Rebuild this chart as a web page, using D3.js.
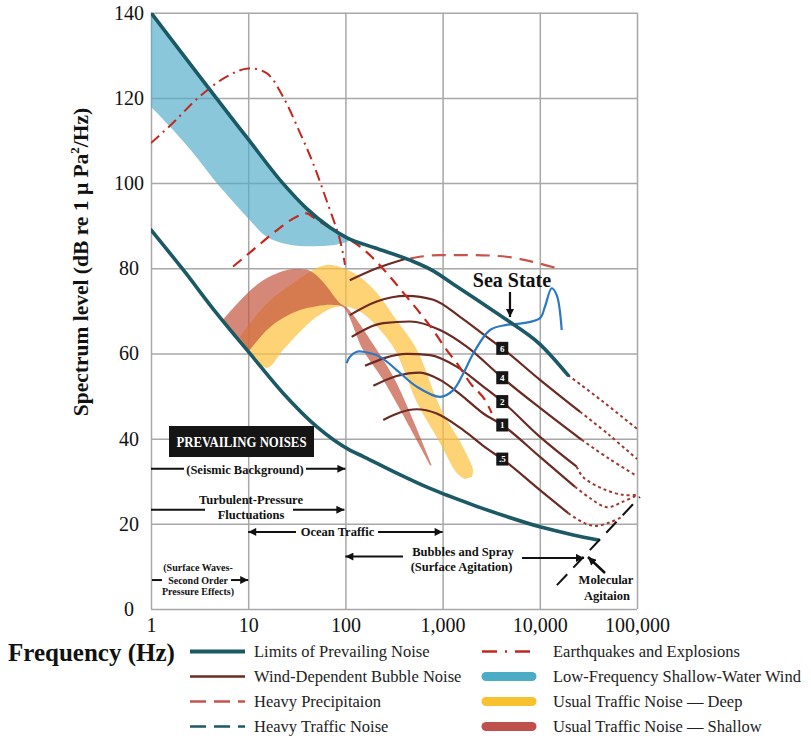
<!DOCTYPE html>
<html><head><meta charset="utf-8">
<script src="https://cdn.jsdelivr.net/npm/d3@7"></script>
<style>
body{margin:0;background:#fff;}
svg{display:block;font-family:"Liberation Serif","Times New Roman",serif;}
</style></head><body>
<svg id="chart" width="811" height="738"></svg>
<script>
// ---------- data (frequency Hz, level dB) ----------
const xTicks = [1, 10, 100, 1000, 10000, 100000];
const xTickLabels = ["1", "10", "100", "1,000", "10,000", "100,000"];
const yTicks = [0, 20, 40, 60, 80, 100, 120, 140];

const limitUpper = [[1,140],[10,110.3],[23,99.8],[40,94.0],[70,89.5],[103,87.2],[200,84.8],[462,81.9],[800,79.4],[1400,75.7],[2620,71.6],[4560,67.9],[10000,62.2],[19500,54.9]];
const limitLower = [[1,89.0],[2.15,79.6],[4.74,69.4],[10.4,60.0],[23,50.6],[50.7,42.8],[111,37.3],[153,35.8],[337,31.9],[741,28.3],[2070,24.4],[4560,21.7],[10000,19.3],[22100,17.4],[40000,16.2]];

const lowFreqWindTop = [[1,140],[10,110.3],[23,99.8],[40,94.0],[70,89.5],[103,87.2],[111,86.9]];
const lowFreqWindBottom = [[1,117.9],[1.68,112.5],[2.7,107.1],[4.74,100.0],[8.24,93.8],[10.4,91.3],[15.5,87.4],[26.9,85.5],[54.8,85.2],[94.5,85.9],[111,86.6]];

const quake = [[1,109.4],[1.68,114.1],[3.05,120.0],[6.0,125.0],[9.95,126.9],[15.5,125.8],[22.8,120.3],[34.1,111.8],[46.4,104.7],[64.3,95.8],[88,86.6],[99,80.8]];
const heavyTraffic = [[7.0,80.4],[12.2,85.0],[21.2,89.5],[31.5,92.1],[40,92.9],[46.4,92.0],[54.8,90.9],[74.5,89.0],[103,87.1],[141,85.1],[210,81.5],[288,78.0],[427,73.3],[585,69.5],[797,65.5],[1102,60.8],[1396,57.8],[1914,53.1],[2843,48.4],[3200,46.0]];
const heavyPrecip = [[462,82.3],[940,83.1],[2055,83.1],[4560,82.7],[8510,81.5],[16140,79.8]];

const windTop = [[111,77.2],[210,80.0],[427,82.3]];
const windSS6 = [[111,69.0],[210,72.2],[427,73.5],[803,72.6],[1510,68.6],[2843,63.9],[4110,61.2],[10046,53.8],[25940,46.3]];
const windSS4 = [[116,63.9],[245,67.1],[462,67.5],[940,65.5],[1770,61.6],[4110,54.3],[10046,47.2],[26980,39.7]];
const windSS2 = [[159,57.1],[427,59.9],[741,59.6],[1396,56.9],[2624,52.2],[4110,48.7],[10046,40.4],[23990,33.4]];
const windSS1 = [[194,52.4],[337,54.7],[585,55.5],[940,53.8],[1633,49.8],[2624,45.9],[4110,43.2],[10046,35.7],[23010,28.7]];
const windSS05 = [[245,44.4],[541,46.9],[869,45.9],[1633,42.0],[2843,37.7],[4110,35.2],[10046,27.9],[19630,22.5]];
const seaStateLabels = ["6", "4", "2", "1", ".5"];
const seaStateLabelFreq = 4110;

const extLimit = [[19500,54.9],[44000,48.8],[100000,42.3]];
const extSS6 = [[25940,46.3],[51500,40.9],[100000,35.2]];
const extSS4 = [[26980,39.7],[51500,35.3],[100000,31.2]];
const extSS2 = [[23990,33.4],[27800,31.0],[44700,28.2],[71800,26.8],[100000,26.8]];
const extSS1 = [[23010,28.7],[33000,26.0],[49100,23.9],[71800,25.2],[100000,26.7]];
const extSS05 = [[19630,22.5],[27000,20.5],[37000,19.5],[52000,20.3],[70100,21.6]];

const molecular = [[15000,5.6],[107000,26.3]];

const seaState = [[103,57.7],[111,59.2],[131,60.4],[153,60.4],[227,59.2],[337,56.1],[541,52.2],[940,49.8],[1288,51.4],[1633,55.3],[2070,60.0],[3076,65.5],[4560,66.7],[6760,67.1],[10046,68.3],[11300,71.0],[13250,75.3],[14930,73.7],[16800,65.5]];

const shallowUpper = [[5.5,67.9],[10.4,74.7],[15.6,77.7],[25.1,79.6],[34.1,79.8],[43.2,79.4],[58.9,76.8],[88,71.8],[104,70.7],[211,60.8],[337,53.0],[778,33.6]];
const shallowLower = [[741,33.8],[255,53.1],[152,60.8],[94.5,70.9],[74.5,71.4],[50.7,71.1],[34.1,70.2],[22.8,68.3],[15.6,65.5],[9.95,60.3]];
const deepUpper = [[8.24,63.9],[15.6,71.8],[28.9,76.5],[46.4,79.6],[64.7,80.8],[88,80.3],[132,78.4],[211,74.2],[324,68.3],[546,60.8],[940,47.4],[1622,38.0],[2055,32.6],[2000,31.0]];
const deepLower = [[1700,30.5],[1406,31.9],[940,39.0],[546,48.4],[324,60.8],[227,65.5],[167,68.6],[132,70.2],[94.5,71.1],[74.5,70.7],[50.7,68.6],[34.1,65.1],[22.8,60.8],[15.6,56.6],[10.4,60.3]];

const legendCol1 = ["Limits of Prevailing Noise", "Wind-Dependent Bubble Noise", "Heavy Precipitaion", "Heavy Traffic Noise"];
const legendCol2 = ["Earthquakes and Explosions", "Low-Frequency Shallow-Water Wind", "Usual Traffic Noise \u2014 Deep", "Usual Traffic Noise \u2014 Shallow"];

// ---------- colours ----------
const C = {
  teal: "#1b5965", brown: "#6b2a22", dotted: "#a0372e", quake: "#c3281f",
  precip: "#c9524a", blueBand: "#52adc8", yellow: "#fcc13a", shallow: "#c4553f",
  seaBlue: "#2c78c2", grid: "#a8a8a8"
};

// ---------- setup ----------
const svg = d3.select("#chart");
const x = d3.scaleLog().domain([1, 1e5]).range([151, 637]);
const y = d3.scaleLinear().domain([0, 140]).range([609, 12.7]);

const defs = svg.append("defs");
defs.append("marker").attr("id", "ah").attr("viewBox", "0 0 10 10")
  .attr("refX", 10).attr("refY", 5).attr("markerWidth", 9).attr("markerHeight", 8)
  .attr("markerUnits", "userSpaceOnUse").attr("orient", "auto-start-reverse")
  .append("path").attr("d", "M0,0L10,5L0,10z").attr("fill", "#111");
defs.append("clipPath").attr("id", "plotclip").append("rect")
  .attr("x", x(1)).attr("y", y(140)).attr("width", x(1e5) - x(1)).attr("height", y(0) - y(140));

// ---------- axes / grid ----------
const gx = svg.append("g").attr("transform", `translate(0,${y(0)})`)
  .call(d3.axisBottom(x).tickValues(xTicks).tickFormat((d, i) => xTickLabels[i])
    .tickSize(-(y(0) - y(140))).tickPadding(9));
gx.select(".domain").remove();
gx.selectAll("line").attr("stroke", C.grid).attr("stroke-width", 1.5);
gx.selectAll("text").attr("font-family", "Liberation Serif").attr("font-size", 20).attr("fill", "#111");

const gy = svg.append("g").attr("transform", `translate(${x(1)},0)`)
  .call(d3.axisLeft(y).tickValues(yTicks).tickSize(-(x(1e5) - x(1))).tickPadding(10));
gy.select(".domain").remove();
gy.selectAll("line").attr("stroke", C.grid).attr("stroke-width", 1.5);
gy.selectAll("text").attr("font-family", "Liberation Serif").attr("font-size", 20).attr("fill", "#111")
  .attr("text-anchor", "middle").attr("x", 129 - x(1));

// ---------- generators ----------
const px = d => x(d[0]), py = d => y(d[1]);
const line = d3.line().x(px).y(py).curve(d3.curveCatmullRom.alpha(0.5));
const mono = d3.line().x(px).y(py).curve(d3.curveMonotoneX);
// band outline: upper edge + lower edge, closed straight at the left cut
function band(upper, lower, gen) {
  const a = (gen || line)(upper), b = line(lower);
  return a + "L" + b.slice(1) + "Z";
}

const plot = svg.append("g").attr("clip-path", "url(#plotclip)");

// bands
plot.append("path").attr("d", band(lowFreqWindTop, lowFreqWindBottom.slice().reverse(), mono))
  .attr("fill", C.blueBand).attr("opacity", 0.68);
plot.append("path").attr("d", band(deepUpper, deepLower))
  .attr("fill", C.yellow).attr("opacity", 0.7);
plot.append("path").attr("d", band(shallowUpper, shallowLower))
  .attr("fill", C.shallow).attr("opacity", 0.7);

// dotted extensions
[extLimit, extSS6, extSS4, extSS2, extSS1, extSS05].forEach(s => {
  plot.append("path").attr("d", line(s)).attr("fill", "none")
    .attr("stroke", C.dotted).attr("stroke-width", 2).attr("stroke-dasharray", "3,3");
});

// wind-dependent bubble noise
const windCurves = [windSS6, windSS4, windSS2, windSS1, windSS05];
[windTop].concat(windCurves).forEach(s => {
  plot.append("path").attr("d", mono(s)).attr("fill", "none")
    .attr("stroke", C.brown).attr("stroke-width", 2.2);
});

// precipitation, heavy traffic, earthquakes
plot.append("path").attr("d", mono(heavyPrecip)).attr("fill", "none")
  .attr("stroke", C.precip).attr("stroke-width", 2.2).attr("stroke-dasharray", "14,8");
plot.append("path").attr("d", mono(heavyTraffic))
  .attr("fill", "none").attr("stroke", C.quake).attr("stroke-width", 2.2).attr("stroke-dasharray", "11,7");
plot.append("path").attr("d", line(quake)).attr("fill", "none")
  .attr("stroke", C.quake).attr("stroke-width", 2).attr("stroke-dasharray", "11,5,2,5");

// sea state curve
plot.append("path").attr("d", line(seaState)).attr("fill", "none")
  .attr("stroke", C.seaBlue).attr("stroke-width", 2.2);

// limits
[limitUpper, limitLower].forEach(s => {
  plot.append("path").attr("d", mono(s)).attr("fill", "none")
    .attr("stroke", C.teal).attr("stroke-width", 3.6).attr("stroke-linecap", "round");
});

// molecular agitation
svg.append("path").attr("d", d3.line().x(px).y(py)(molecular))
  .attr("fill", "none").attr("stroke", "#111").attr("stroke-width", 2).attr("stroke-dasharray", "15,9");

// sea state labels
windCurves.forEach((s, i) => {
  const p = s.find(d => d[0] === seaStateLabelFreq);
  const cx = x(p[0]), cy = y(p[1]);
  svg.append("rect").attr("x", cx - 6).attr("y", cy - 6.5).attr("width", 12).attr("height", 13).attr("fill", "#161616");
  svg.append("text").attr("x", cx).attr("y", cy + 3.2).attr("text-anchor", "middle")
    .attr("font-size", 9).attr("font-weight", "bold").attr("fill", "#fff").text(seaStateLabels[i]);
});

// ---------- annotations ----------
const ann = svg.append("g").attr("fill", "#111").attr("font-weight", "bold");
function arrow(x1, y1, x2, y2, head, w) {
  const l = ann.append("line").attr("x1", x1).attr("y1", y1).attr("x2", x2).attr("y2", y2)
    .attr("stroke", "#111").attr("stroke-width", w || 2);
  if (head) l.attr("marker-end", "url(#ah)");
}
function label(t, cx, by, size) {
  ann.append("text").attr("x", cx).attr("y", by).attr("text-anchor", "middle").attr("font-size", size).text(t);
}

label("Sea State", 512, 287, 20);
arrow(510, 292, 510, 317, true, 2.2);

ann.append("rect").attr("x", 169).attr("y", 426).attr("width", 145).attr("height", 31).attr("fill", "#151515");
ann.append("text").attr("x", 241.5).attr("y", 446.5).attr("text-anchor", "middle").attr("font-size", 14)
  .attr("fill", "#fff").attr("textLength", 130).attr("lengthAdjust", "spacingAndGlyphs").text("PREVAILING NOISES");

label("(Seismic Background)", 245, 473.5, 12.5);
arrow(x(1), y(32.9), 184, y(32.9), false);
arrow(306, y(32.9), x(100), y(32.9), true);

label("Turbulent-Pressure", 251, 503.5, 12.5);
label("Fluctuations", 251, 518.5, 12.5);
arrow(x(1), y(23.3), 205, y(23.3), false);
arrow(293, y(23.3), x(100) - 1, y(23.3), true);

label("Ocean Traffic", 337.5, 536, 12.5);
arrow(296, y(18.1), x(10), y(18.1), true);
arrow(378, y(18.1), x(1000), y(18.1), true);

label("Bubbles and Spray", 463, 556, 12.5);
label("(Surface Agitation)", 461.5, 571, 12.5);
arrow(403, y(12.3), x(100), y(12.3), true);
arrow(522, y(12.0), 584, y(12.0), true);

label("(Surface Waves-", 198, 571, 10);
label("Second Order", 198, 583.5, 10);
label("Pressure Effects)", 198, 595, 10);
arrow(x(1) + 1, y(6.8), 162, y(6.8), false);
arrow(231, y(6.8), x(10), y(6.8), true);

label("Molecular", 606, 584, 12.5);
label("Agitaion", 607, 599.5, 12.5);
arrow(605, 573, 588, 557, true, 2.6);

// ---------- axis titles ----------
svg.append("text").attr("transform", "translate(88,262) rotate(-90)").attr("text-anchor", "middle")
  .attr("font-size", 21.5).attr("font-weight", "bold").attr("fill", "#111")
  .call(t => {
    t.append("tspan").text("Spectrum level (dB re 1 \u03bc  Pa");
    t.append("tspan").attr("font-size", 13).attr("dy", -9).text("2");
    t.append("tspan").attr("dy", 9).text("/Hz)");
  });
svg.append("text").attr("x", 8).attr("y", 660.5).attr("font-size", 25).attr("font-weight", "bold")
  .attr("fill", "#111").text("Frequency (Hz)");

// ---------- legend ----------
const rowsY = [651.5, 676.5, 701.5, 726.5];
const lg = svg.append("g");
const sw1 = [
  {c: C.teal, w: 4, d: null},
  {c: C.brown, w: 2.5, d: null},
  {c: C.precip, w: 2.5, d: "16,8"},
  {c: C.teal, w: 2.5, d: "16,8"}
];
const sw2 = [
  {c: C.quake, w: 2.5, d: "15,8,2,8", cap: "butt"},
  {c: "#4bacc6", w: 9, cap: "round"},
  {c: "#f8c12f", w: 9, cap: "round"},
  {c: "#c0504d", w: 9, cap: "round"}
];
legendCol1.forEach((t, i) => {
  const s = sw1[i];
  lg.append("line").attr("x1", 190).attr("x2", 245).attr("y1", rowsY[i]).attr("y2", rowsY[i])
    .attr("stroke", s.c).attr("stroke-width", s.w).attr("stroke-dasharray", s.d);
  lg.append("text").attr("x", 254).attr("y", rowsY[i] + 5.5).attr("font-size", 16.5).attr("fill", "#222").text(t);
});
legendCol2.forEach((t, i) => {
  const s = sw2[i];
  lg.append("line").attr("x1", s.cap === "round" ? 486 : 482).attr("x2", s.cap === "round" ? 532 : 536)
    .attr("y1", rowsY[i]).attr("y2", rowsY[i])
    .attr("stroke", s.c).attr("stroke-width", s.w).attr("stroke-dasharray", s.d || null)
    .attr("stroke-linecap", s.cap);
  lg.append("text").attr("x", 553).attr("y", rowsY[i] + 5.5).attr("font-size", 16.5).attr("fill", "#222").text(t);
});
</script>
</body></html>
